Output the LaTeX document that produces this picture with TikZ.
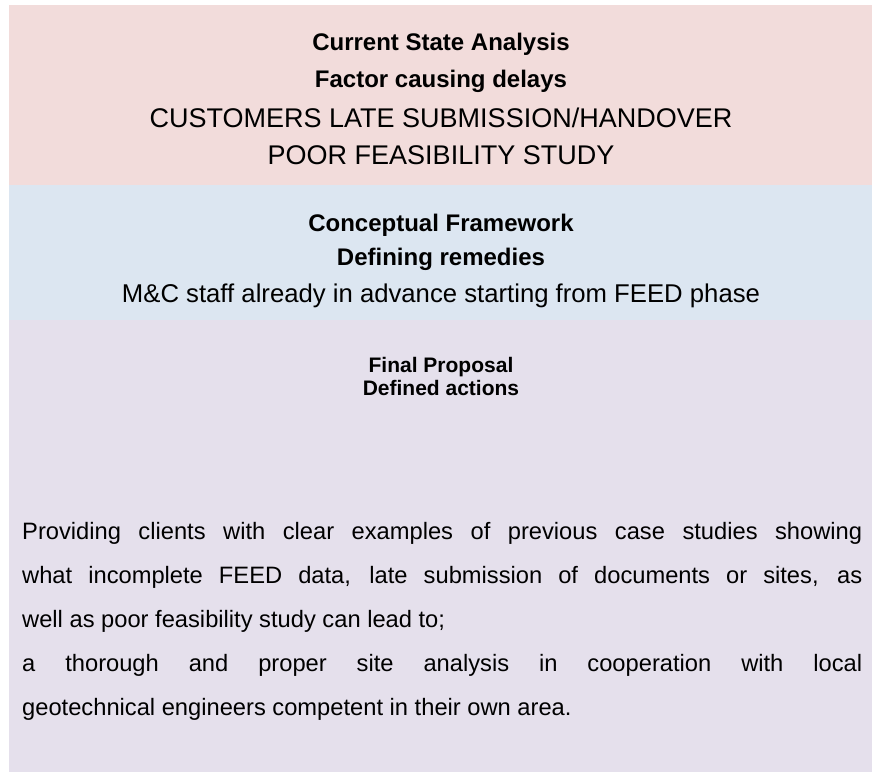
\documentclass[tikz,border=0pt]{standalone}
\usepackage{fontspec}
\setmainfont{Liberation Sans}
\definecolor{stateband}{HTML}{F2DCDB}
\definecolor{frameband}{HTML}{DCE6F1}
\definecolor{proposalband}{HTML}{E5E0EC}
\begin{document}
\begin{tikzpicture}[x=1pt, y=-1pt, every node/.style={inner sep=0pt, anchor=base},
  heading/.style={font=\fontsize{24}{28}\selectfont\bfseries},
  capsline/.style={font=\fontsize{27}{32}\selectfont},
  remedy/.style={font=\fontsize{25.7}{30}\selectfont},
  smallhead/.style={font=\fontsize{21}{23}\selectfont\bfseries, align=center},
  bodytext/.style={font=\fontsize{23.7}{44}\selectfont, text width=840pt, align=justify, anchor=base west}]
\useasboundingbox (0,0) rectangle (881,780);
% Bands
\fill[stateband] (9,5) rectangle (872,185);
\fill[frameband] (9,185) rectangle (872,320);
\fill[proposalband] (9,320) rectangle (872,772);

% Current state
\node[heading] (csa) at (441,50.6) {Current State Analysis};
\node[heading] (fcd) at (441,87.6) {Factor causing delays};
\node[capsline] (late) at (441,127.7) {CUSTOMERS LATE SUBMISSION/HANDOVER};
\node[capsline] (poor) at (441,164.7) {POOR FEASIBILITY STUDY};

% Framework
\node[heading] (cf) at (441,231.6) {Conceptual Framework};
\node[heading] (dr) at (441,265.6) {Defining remedies};
\node[remedy] (mc) at (441,302) {M\&C staff already in advance starting from FEED phase};

% Proposal
\node[smallhead] (fp) at (441,395.5) {Final Proposal\\Defined actions};
\node[bodytext] (act) at (22,539.5) {Providing clients with clear examples of previous case studies showing\linebreak
what incomplete FEED data, late submission of documents or sites, as\linebreak
well as poor feasibility study can lead to;\\
a thorough and proper site analysis in cooperation with local\linebreak
geotechnical engineers competent in their own area.};
\end{tikzpicture}
\end{document}
